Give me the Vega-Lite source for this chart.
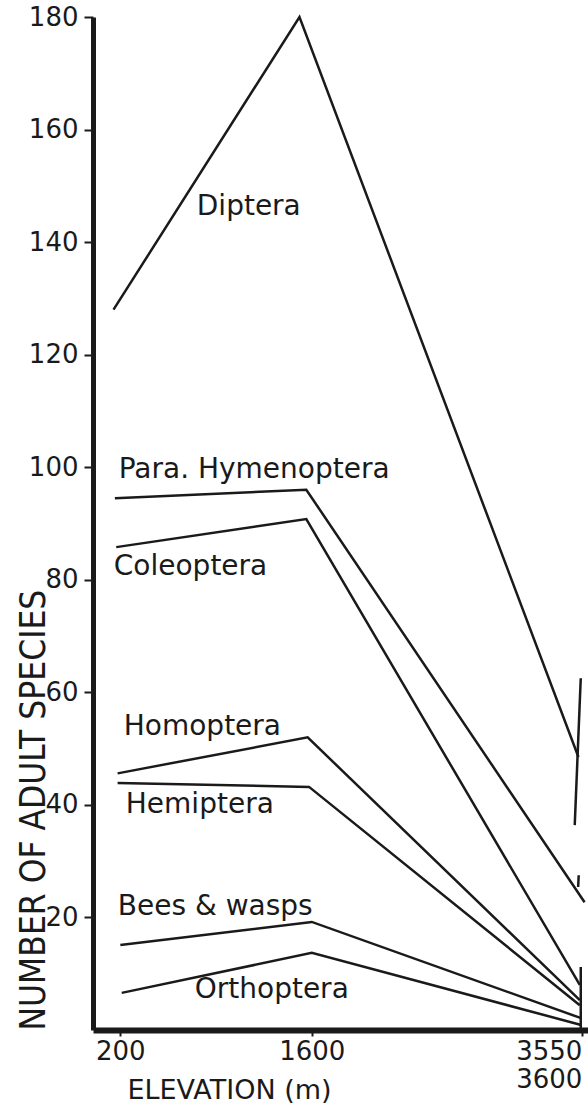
{
  "$schema": "https://vega.github.io/schema/vega-lite/v6.json",
  "width": 495,
  "height": 1013,
  "autosize": {"type": "none"},
  "padding": {"left": 93, "top": 17, "right": 0, "bottom": 76},
  "background": "white",
  "config": {
    "view": {"stroke": null},
    "font": "DejaVu Sans"
  },
  "datasets": {
    "lines": [
      {"order": "Diptera", "elev": 150, "n": 128},
      {"order": "Diptera", "elev": 1510, "n": 180},
      {"order": "Diptera", "elev": 3550, "n": 48.5},
      {"order": "Para. Hymenoptera", "elev": 160, "n": 94.5},
      {"order": "Para. Hymenoptera", "elev": 1560, "n": 96},
      {"order": "Para. Hymenoptera", "elev": 3595, "n": 22.7},
      {"order": "Coleoptera", "elev": 170, "n": 85.8},
      {"order": "Coleoptera", "elev": 1560, "n": 90.8},
      {"order": "Coleoptera", "elev": 3560, "n": 8},
      {"order": "Homoptera", "elev": 180, "n": 45.6},
      {"order": "Homoptera", "elev": 1570, "n": 52},
      {"order": "Homoptera", "elev": 3560, "n": 5.3},
      {"order": "Hemiptera", "elev": 180, "n": 43.9},
      {"order": "Hemiptera", "elev": 1580, "n": 43.2},
      {"order": "Hemiptera", "elev": 3560, "n": 4.4},
      {"order": "Bees & wasps", "elev": 200, "n": 15.1},
      {"order": "Bees & wasps", "elev": 1600, "n": 19.2},
      {"order": "Bees & wasps", "elev": 3570, "n": 2.1},
      {"order": "Orthoptera", "elev": 210, "n": 6.6},
      {"order": "Orthoptera", "elev": 1600, "n": 13.7},
      {"order": "Orthoptera", "elev": 3570, "n": 0.9}
    ],
    "ranges": [
      {"order": "Diptera", "e1": 3567, "n1": 62.5, "e2": 3523, "n2": 36.4},
      {"order": "Para. Hymenoptera", "e1": 3552, "n1": 27.5, "e2": 3548, "n2": 25.4},
      {"order": "Lower orders", "e1": 3567, "n1": 11.2, "e2": 3567, "n2": 0}
    ],
    "labels": [
      {"label": "Diptera", "lx": 759, "ly": 146.2},
      {"label": "Para. Hymenoptera", "lx": 188, "ly": 99.5},
      {"label": "Coleoptera", "lx": 152, "ly": 82.2},
      {"label": "Homoptera", "lx": 225, "ly": 53.8},
      {"label": "Hemiptera", "lx": 240, "ly": 40},
      {"label": "Bees & wasps", "lx": 181, "ly": 21.8},
      {"label": "Orthoptera", "lx": 744, "ly": 7.1}
    ]
  },
  "layer": [
    {
      "data": {"name": "lines"},
      "mark": {"type": "line", "color": "#1a1a1a", "strokeWidth": 2.5, "clip": false},
      "encoding": {
        "x": {
          "field": "elev", "type": "quantitative",
          "scale": {"domain": [0, 3620], "nice": false, "zero": false},
          "axis": {
            "values": [200, 1600, 3575],
            "format": "d",
            "labelExpr": "datum.value > 3000 ? ['3550', '3600'] : datum.label",
            "labelAlign": {"condition": {"test": "datum.value > 3000", "value": "right"}, "value": "center"},
            "labelFontSize": 26,
            "labelColor": "#1a1a1a",
            "labelPadding": 2,
            "labelLineHeight": 28,
            "labelFlush": false,
            "labelOverlap": false,
            "grid": false,
            "domainColor": "#1a1a1a",
            "domainWidth": 6,
            "tickColor": "#1a1a1a",
            "tickWidth": 2,
            "tickSize": 6,
            "title": "ELEVATION (m)",
            "titleFontSize": 27,
            "titleFontWeight": "normal",
            "titleColor": "#1a1a1a",
            "titleX": 136,
            "titleY": 60,
            "titleAlign": "center",
            "titleBaseline": "middle"
          }
        },
        "y": {
          "field": "n", "type": "quantitative",
          "scale": {"domain": [0, 180], "nice": false},
          "axis": {
            "values": [20, 40, 60, 80, 100, 120, 140, 160, 180],
            "labelFontSize": 26,
            "labelColor": "#1a1a1a",
            "labelPadding": 6,
            "grid": false,
            "domainColor": "#1a1a1a",
            "domainWidth": 5,
            "tickColor": "#1a1a1a",
            "tickWidth": 2,
            "tickSize": 9,
            "title": "NUMBER OF ADULT SPECIES",
            "titleFont": "DejaVu Sans Condensed",
            "titleFontSize": 35,
            "titleFontWeight": "normal",
            "titleColor": "#1a1a1a",
            "titleAngle": -90,
            "titleX": -60,
            "titleY": 1013,
            "titleAlign": "left",
            "titleBaseline": "middle"
          }
        },
        "detail": {"field": "order", "type": "nominal"}
      }
    },
    {
      "data": {"name": "ranges"},
      "mark": {"type": "rule", "color": "#1a1a1a", "strokeWidth": 2.5, "clip": false},
      "encoding": {
        "x": {"field": "e1", "type": "quantitative"},
        "x2": {"field": "e2"},
        "y": {"field": "n1", "type": "quantitative"},
        "y2": {"field": "n2"}
      }
    },
    {
      "data": {"name": "labels"},
      "mark": {"type": "text", "align": "left", "baseline": "middle", "fontSize": 28, "color": "#1a1a1a"},
      "encoding": {
        "x": {"field": "lx", "type": "quantitative"},
        "y": {"field": "ly", "type": "quantitative"},
        "text": {"field": "label", "type": "nominal"}
      }
    }
  ]
}
